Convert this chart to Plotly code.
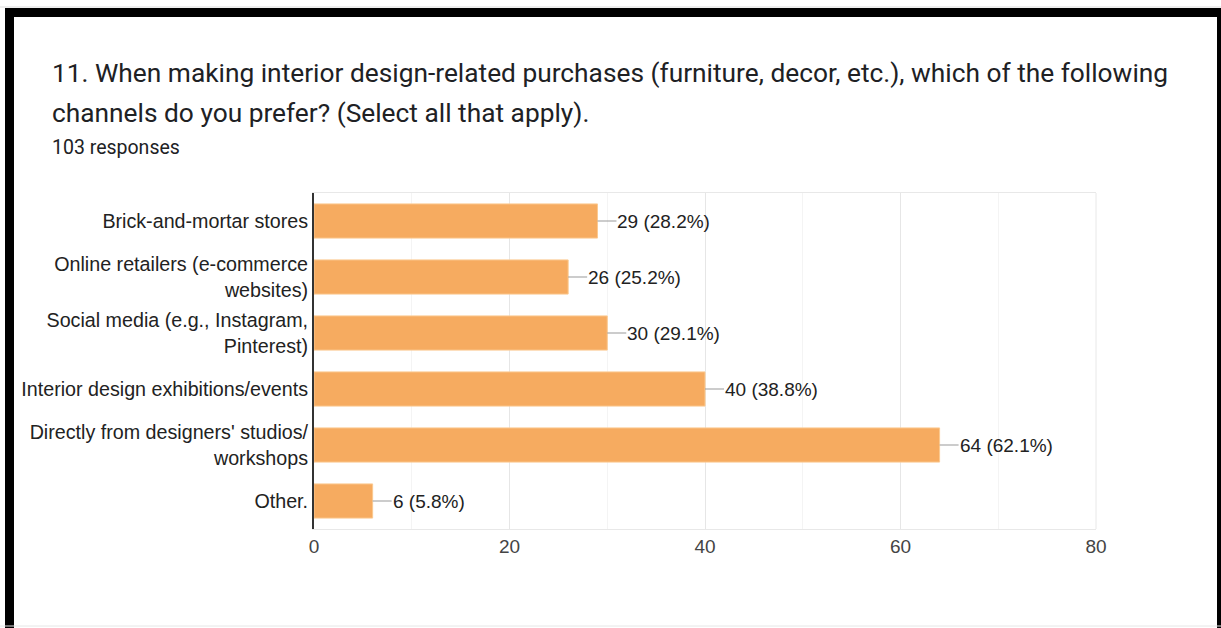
import plotly.graph_objects as go

# Survey question 11: preferred purchase channels (multi-select), 103 responses
channels = [
    "Brick-and-mortar stores",
    "Online retailers (e-commerce<br>websites)",
    "Social media (e.g., Instagram,<br>Pinterest)",
    "Interior design exhibitions/events",
    "Directly from designers' studios/<br>workshops",
    "Other.",
]
counts = [29, 26, 30, 40, 64, 6]
percents = [28.2, 25.2, 29.1, 38.8, 62.1, 5.8]
x_ticks = [0, 20, 40, 60, 80]

W, H = 1221, 628
BAR_COLOR = "#f6ab60"
TEXT_COLOR = "#222222"
SANS = "Liberation Sans, Arial"

fig = go.Figure()
fig.add_trace(go.Bar(
    x=counts,
    y=channels,
    orientation="h",
    width=0.61,
    marker=dict(color=BAR_COLOR, line=dict(color="#fbc990", width=1)),
    hoverinfo="skip",
))

# value labels with a short leader line off the end of each bar
annotations = []
for ch, c, p in zip(channels, counts, percents):
    annotations.append(dict(
        x=c, y=ch, xref="x", yref="y",
        text=f"{c} ({p}%)",
        showarrow=True, arrowhead=0, arrowwidth=1, arrowcolor="#999999",
        ax=19, ay=0, xanchor="left", borderpad=0,
        font=dict(family=SANS, size=19, color=TEXT_COLOR),
    ))

# heading text
annotations.append(dict(
    x=50 / W, y=1 - 73 / H, xref="paper", yref="paper",
    xanchor="left", yanchor="middle", showarrow=False, align="left",
    text="11. When making interior design-related purchases (furniture, decor, etc.), which of the following",
    font=dict(family="Roboto", size=26.3, color="#202124"),
))
annotations.append(dict(
    x=50 / W, y=1 - 113 / H, xref="paper", yref="paper",
    xanchor="left", yanchor="middle", showarrow=False, align="left",
    text="channels do you prefer? (Select all that apply).",
    font=dict(family="Roboto", size=26.3, color="#202124"),
))
annotations.append(dict(
    x=50 / W, y=1 - 147 / H, xref="paper", yref="paper",
    xanchor="left", yanchor="middle", showarrow=False, align="left",
    text="103 responses",
    font=dict(family="Roboto", size=19.5, color="#202124"),
))

x0d, x1d = 314 / W, 1096 / W
y0d, y1d = 1 - 529 / H, 1 - 193 / H

shapes = [
    # frame around the card
    dict(type="rect", xref="paper", yref="paper", x0=5 / W, x1=14 / W, y0=0, y1=1 - 8 / H,
         fillcolor="black", line=dict(width=0), layer="above"),
    dict(type="rect", xref="paper", yref="paper", x0=5 / W, x1=1, y0=1 - 17 / H, y1=1 - 8 / H,
         fillcolor="black", line=dict(width=0), layer="above"),
    dict(type="rect", xref="paper", yref="paper", x0=1217 / W, x1=1, y0=0, y1=1 - 8 / H,
         fillcolor="black", line=dict(width=0), layer="above"),
    dict(type="line", xref="paper", yref="paper", x0=0, x1=1, y0=2 / H, y1=2 / H,
         line=dict(color="#e6e6e6", width=1)),
    dict(type="line", xref="paper", yref="paper", x0=0, x1=1, y0=1 - 7 / H, y1=1 - 7 / H,
         line=dict(color="#dddddd", width=1)),
    # right edge of the plotting area
    dict(type="line", xref="paper", yref="paper", x0=x1d, x1=x1d, y0=y0d, y1=y1d,
         line=dict(color="#e8e8e8", width=1), layer="below"),
]

fig.update_layout(
    template="none",
    width=W, height=H, autosize=False,
    margin=dict(l=0, r=0, t=0, b=0, pad=0),
    paper_bgcolor="white", plot_bgcolor="white",
    showlegend=False,
    annotations=annotations,
    shapes=shapes,
    xaxis=dict(
        domain=[x0d, x1d], range=[0, 80], automargin=False,
        tickvals=x_ticks, ticks="", ticklen=0,
        showgrid=True, gridcolor="#e6e6e6", gridwidth=1,
        minor=dict(dtick=10, showgrid=True, gridcolor="#f4f4f4", gridwidth=1),
        showline=True, linecolor="#e8e8e8", linewidth=1, mirror=True,
        zeroline=False,
        tickfont=dict(family=SANS, size=19, color="#444444"),
    ),
    yaxis=dict(
        domain=[y0d, y1d], automargin=False,
        autorange="reversed",
        showgrid=False, zeroline=False,
        showline=True, linecolor="#333333", linewidth=2,
        ticks="", ticklen=0,
        tickfont=dict(family=SANS, size=19.7, color=TEXT_COLOR),
    ),
    bargap=0.39,
)

fig.write_html("out.html")
